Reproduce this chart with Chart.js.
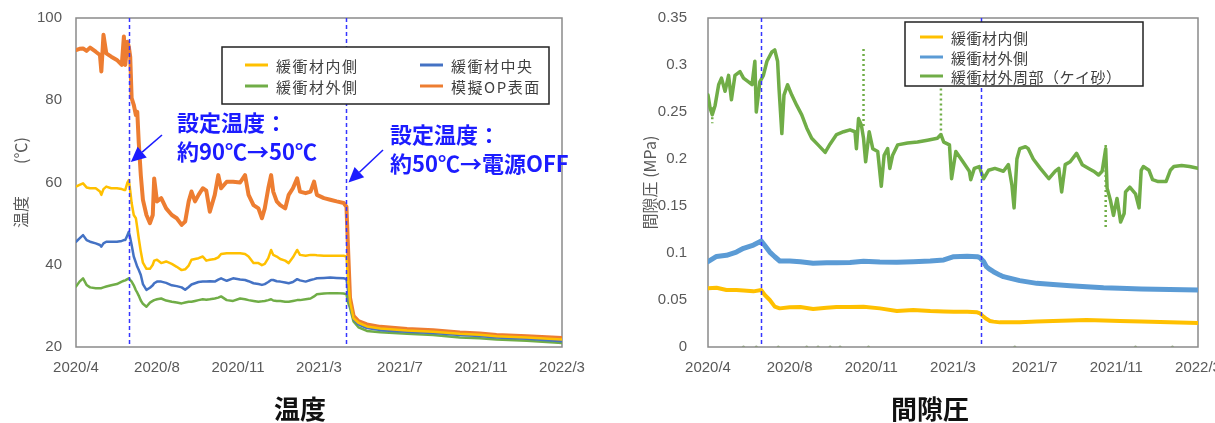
<!DOCTYPE html>
<html lang="ja">
<head>
<meta charset="utf-8">
<title>温度・間隙圧</title>
<script src="https://cdn.jsdelivr.net/npm/chart.js@4.4.1/dist/chart.umd.min.js"></script>
<style>
  html, body { margin: 0; padding: 0; background: #fff; overflow: hidden; width: 1215px; height: 423px; }
  #tempWrap { position: absolute; left: 0; top: 0; width: 600px; height: 423px; }
  #presWrap { position: absolute; left: 615px; top: 0; width: 610px; height: 423px; }
</style>
</head>
<body>
<div id="tempWrap"><canvas id="tempChart"></canvas></div>
<div id="presWrap"><canvas id="presChart"></canvas></div>
<script>
// x values are days counted from 2020/4/1
const xTickDays = [10, 125, 240, 355, 470, 585, 700];
const xTickLabels = ['2020/4', '2020/8', '2020/11', '2021/3', '2021/7', '2021/11', '2022/3'];
const changeDays = [85, 394];

// 温度 (℃)
const tempDays = [10, 15, 20, 25, 30, 38, 44, 46, 49, 53, 60, 68, 75, 78, 80, 83, 85, 87, 89, 92, 95, 97, 99, 102, 105, 110, 115, 119, 121, 125, 131, 138, 146, 153, 160, 165, 170, 174, 179, 184, 190, 195, 200, 207, 212, 216, 224, 233, 243, 250, 255, 262, 269, 274, 278, 283, 287, 290, 295, 300, 307, 312, 318, 324, 328, 336, 343, 348, 352, 362, 371, 380, 390, 394, 396, 399, 404, 411, 423, 442, 480, 517, 555, 583, 607, 650, 700];
const tempInner = [59.0, 59.4, 59.8, 58.8, 58.6, 58.6, 57.8, 57.0, 58.4, 59.0, 58.6, 58.6, 58.4, 58.2, 58.2, 60.0, 60.6, 58.0, 55.0, 52.1, 51.3, 49.0, 46.5, 43.2, 40.5, 39.0, 39.0, 40.0, 41.0, 41.2, 40.4, 40.8, 40.2, 39.5, 38.7, 38.9, 39.8, 41.2, 41.4, 41.6, 42.0, 41.0, 41.2, 41.4, 41.8, 42.6, 42.8, 42.8, 42.8, 42.6, 42.0, 40.4, 40.4, 39.9, 40.2, 41.6, 43.6, 42.4, 42.0, 41.4, 41.0, 40.4, 41.8, 43.6, 42.4, 42.2, 42.4, 42.4, 42.3, 42.2, 42.2, 42.2, 42.2, 42.0, 37.0, 31.0, 27.0, 25.9, 25.0, 24.5, 24.0, 23.7, 23.2, 23.0, 22.6, 22.3, 21.8];
const tempCenter = [45.6, 46.4, 47.2, 46.0, 45.6, 45.2, 44.8, 44.4, 45.2, 45.6, 45.6, 45.6, 45.8, 46.0, 46.0, 47.2, 48.0, 46.5, 44.8, 42.0, 40.5, 39.5, 38.8, 37.5, 35.3, 33.9, 34.4, 35.0, 35.5, 35.9, 35.9, 35.6, 35.0, 34.8, 34.5, 33.9, 34.6, 35.2, 35.5, 35.8, 35.9, 35.9, 36.0, 35.9, 36.4, 36.7, 36.1, 36.7, 36.4, 36.3, 36.0, 35.5, 35.3, 35.1, 35.3, 35.8, 36.3, 36.3, 36.0, 35.9, 35.7, 35.5, 35.8, 36.5, 36.2, 35.9, 36.3, 36.5, 36.7, 36.8, 36.9, 36.8, 36.7, 36.5, 34.0, 30.5, 26.8, 25.5, 24.6, 24.1, 23.7, 23.4, 22.9, 22.7, 22.3, 22.0, 21.4];
const tempOuter = [34.7, 35.9, 36.7, 35.1, 34.5, 34.3, 34.3, 34.3, 34.5, 34.7, 35.0, 35.3, 35.9, 36.1, 36.2, 36.5, 36.7, 36.3, 35.9, 35.0, 33.8, 33.2, 32.5, 31.3, 30.5, 29.8, 30.8, 31.2, 31.4, 31.6, 31.8, 31.3, 31.0, 30.8, 30.6, 30.8, 31.0, 31.0, 31.2, 31.4, 31.6, 31.5, 31.6, 31.8, 32.0, 32.3, 31.4, 31.2, 31.8, 31.6, 31.4, 31.2, 31.0, 31.1, 31.2, 31.4, 31.6, 31.3, 31.2, 31.2, 31.0, 31.0, 31.2, 31.4, 31.4, 31.6, 31.8, 32.3, 32.8, 33.0, 33.1, 33.1, 33.0, 32.8, 31.0, 29.5, 26.2, 24.8, 23.9, 23.6, 23.2, 22.9, 22.3, 22.1, 21.8, 21.5, 21.0];
const tempOP = [92.2, 92.5, 92.6, 92.0, 92.8, 91.8, 91.0, 87.0, 95.9, 91.4, 90.6, 89.8, 88.6, 95.5, 88.6, 94.2, 93.0, 90.5, 80.5, 78.9, 76.4, 77.2, 70.0, 61.8, 55.8, 52.1, 50.1, 52.1, 61.0, 55.4, 56.2, 53.7, 52.1, 51.3, 49.7, 50.5, 55.4, 57.8, 55.4, 57.0, 58.6, 58.0, 52.9, 57.0, 61.8, 58.6, 60.2, 60.2, 60.0, 61.8, 57.0, 54.5, 53.7, 51.3, 53.7, 58.6, 61.8, 57.8, 55.4, 54.5, 53.7, 57.0, 58.6, 61.0, 57.8, 57.4, 57.8, 60.2, 57.0, 56.2, 55.8, 55.4, 55.0, 54.1, 45.0, 32.0, 27.6, 26.3, 25.5, 24.9, 24.4, 24.1, 23.5, 23.3, 22.9, 22.6, 22.2];

// 間隙圧 (MPa)
const presDays = [10, 22, 36, 50, 60, 74, 85, 90, 97, 104, 111, 125, 140, 158, 177, 191, 210, 229, 252, 276, 299, 323, 342, 356, 375, 389, 393, 398, 402, 407, 412, 421, 426, 449, 473, 496, 520, 543, 567, 590, 620, 660, 700];
const presInner = [0.0624, 0.0631, 0.0606, 0.0606, 0.0600, 0.0592, 0.0606, 0.0553, 0.0500, 0.0429, 0.0411, 0.0422, 0.0426, 0.0404, 0.0418, 0.0426, 0.0426, 0.0429, 0.0411, 0.0383, 0.0394, 0.0383, 0.0378, 0.0376, 0.0376, 0.0369, 0.0358, 0.0323, 0.0300, 0.0277, 0.0270, 0.0262, 0.0262, 0.0262, 0.0270, 0.0277, 0.0282, 0.0287, 0.0282, 0.0277, 0.0270, 0.0262, 0.0255];
const presOuter = [0.0908, 0.0963, 0.0975, 0.1010, 0.1050, 0.1085, 0.1128, 0.1080, 0.1010, 0.0960, 0.0915, 0.0915, 0.0908, 0.0890, 0.0895, 0.0897, 0.0900, 0.0912, 0.0905, 0.0902, 0.0908, 0.0915, 0.0926, 0.0961, 0.0965, 0.0961, 0.0950, 0.0910, 0.0855, 0.0825, 0.0801, 0.0765, 0.0748, 0.0706, 0.0677, 0.0665, 0.0652, 0.0642, 0.0631, 0.0625, 0.0618, 0.0612, 0.0606];
const sandDays = [10, 13, 16, 20, 25, 29, 34, 39, 43, 48, 55, 60, 67, 72, 76, 78, 83, 88, 93, 100, 104, 108, 110, 114, 117, 122, 128, 135, 142, 149, 156, 165, 175, 182, 191, 201, 210, 217, 219, 222, 226, 229, 232, 237, 242, 249, 254, 258, 263, 266, 270, 277, 291, 305, 319, 333, 338, 342, 350, 353, 359, 369, 378, 380, 385, 392, 398, 405, 414, 426, 433, 438, 441, 445, 449, 457, 461, 468, 478, 490, 499, 504, 508, 513, 520, 529, 537, 546, 553, 560, 565, 570, 572, 577, 581, 586, 591, 596, 598, 604, 612, 617, 620, 623, 631, 636, 644, 655, 661, 666, 677, 688, 700];
const sandVals = [0.268, 0.254, 0.247, 0.257, 0.279, 0.286, 0.272, 0.289, 0.263, 0.289, 0.293, 0.286, 0.282, 0.279, 0.304, 0.250, 0.282, 0.289, 0.304, 0.314, 0.316, 0.304, 0.275, 0.227, 0.268, 0.279, 0.268, 0.257, 0.247, 0.233, 0.222, 0.215, 0.207, 0.216, 0.226, 0.229, 0.231, 0.229, 0.211, 0.243, 0.236, 0.222, 0.197, 0.229, 0.211, 0.208, 0.171, 0.204, 0.211, 0.190, 0.204, 0.215, 0.217, 0.218, 0.220, 0.222, 0.226, 0.218, 0.215, 0.179, 0.208, 0.197, 0.187, 0.178, 0.190, 0.192, 0.179, 0.188, 0.190, 0.187, 0.194, 0.172, 0.148, 0.200, 0.211, 0.213, 0.211, 0.200, 0.190, 0.179, 0.187, 0.190, 0.165, 0.194, 0.197, 0.206, 0.194, 0.190, 0.187, 0.183, 0.187, 0.211, 0.169, 0.155, 0.140, 0.158, 0.133, 0.142, 0.165, 0.170, 0.163, 0.148, 0.188, 0.192, 0.188, 0.178, 0.176, 0.176, 0.188, 0.192, 0.193, 0.192, 0.190];
// scattered readings drawn as dotted streaks (null = break)
const sandSpikeDays = [16, 16, null, 229, 229, null, 338, 338, null, 570, 570];
const sandSpikeVals = [0.255, 0.238, null, 0.235, 0.320, null, 0.225, 0.280, null, 0.215, 0.126];
const zeroDotDays = [60, 78, 109, 149, 165, 182, 196, 236, 442, 612, 664];

const noteA = ['設定温度：', '約90℃→50℃'];
const noteB = ['設定温度：', '約50℃→電源OFF'];

const CJK = '"Noto Sans CJK JP", "Noto Sans", sans-serif';
const NUM = '"Liberation Sans", Arial, sans-serif';

function pairs(xs, ys) {
    return xs.map((x, i) => ({ x: x, y: ys[i] }));
}

function lineSet(label, xs, ys, color, width) {
    return { label: label, data: pairs(xs, ys), borderColor: color, backgroundColor: color, borderWidth: width,
             pointRadius: 0, tension: 0, borderJoinStyle: 'round', borderCapStyle: 'round' };
}

// keep the plot box where layout.padding puts it
function fixPadding(s) {
    s.paddingTop = 0; s.paddingBottom = 0; s.paddingLeft = 0; s.paddingRight = 0;
}

function xAxis() {
    return {
        type: 'linear', min: 10, max: 700,
        afterFit: (s) => { s.height = 30; fixPadding(s); },
        afterBuildTicks: (s) => { s.ticks = xTickDays.map(v => ({ value: v })); },
        grid: { display: false, drawTicks: false },
        border: { display: false },
        ticks: { autoSkip: false, maxRotation: 0, padding: 12, color: '#595959', font: { family: NUM, size: 15 },
                 callback: (v, i) => xTickLabels[i] }
    };
}

// frame, dashed change lines, legend box, notes, caption
function createDecorPlugin(cfg) {
    return {
        id: 'decor',
        beforeDatasetsDraw: (chart) => {
            const { ctx, chartArea: a } = chart;
            ctx.save();
            ctx.strokeStyle = '#8a8a8a';
            ctx.lineWidth = 1.5;
            ctx.strokeRect(a.left, a.top, a.right - a.left, a.bottom - a.top);
            ctx.restore();
        },
        afterDatasetsDraw: (chart) => {
            const { ctx, chartArea: a, scales } = chart;
            ctx.save();
            ctx.strokeStyle = '#3535ff';
            ctx.lineWidth = 1.5;
            ctx.setLineDash([4, 3]);
            changeDays.forEach(d => {
                const x = Math.round(scales.x.getPixelForValue(d)) + 0.5;
                ctx.beginPath();
                ctx.moveTo(x, a.top);
                ctx.lineTo(x, a.bottom);
                ctx.stroke();
            });
            ctx.restore();

            // legend
            const L = cfg.legend;
            ctx.save();
            ctx.fillStyle = '#fff';
            ctx.fillRect(L.box[0], L.box[1], L.box[2], L.box[3]);
            ctx.strokeStyle = '#222';
            ctx.lineWidth = 1.5;
            ctx.strokeRect(L.box[0], L.box[1], L.box[2], L.box[3]);
            ctx.font = '15px ' + CJK;
            ctx.letterSpacing = L.spacing;
            ctx.textBaseline = 'middle';
            ctx.fillStyle = '#404040';
            L.items.forEach((idx, k) => {
                const ds = chart.data.datasets[idx];
                const [sx, sy] = L.slots[k];
                ctx.strokeStyle = ds.borderColor;
                ctx.lineWidth = 3;
                ctx.beginPath();
                ctx.moveTo(sx, sy);
                ctx.lineTo(sx + 23, sy);
                ctx.stroke();
                ctx.fillText(ds.label, sx + 31, sy + 1);
            });
            ctx.restore();

            // blue notes with arrows
            (cfg.notes || []).forEach(n => {
                ctx.save();
                ctx.fillStyle = '#1c1cff';
                ctx.strokeStyle = '#1c1cff';
                ctx.font = 'bold 22px ' + CJK;
                ctx.textBaseline = 'middle';
                n.lines.forEach((t, i) => ctx.fillText(t, n.x, n.y + i * 29));
                const tx = scales.x.getPixelForValue(n.tipDay) + 2;
                const ty = scales.y.getPixelForValue(n.tipVal);
                const ang = Math.atan2(ty - n.tail[1], tx - n.tail[0]);
                const hx = tx - Math.cos(ang) * 15, hy = ty - Math.sin(ang) * 15;
                ctx.lineWidth = 1.6;
                ctx.beginPath();
                ctx.moveTo(n.tail[0], n.tail[1]);
                ctx.lineTo(hx, hy);
                ctx.stroke();
                ctx.beginPath();
                ctx.moveTo(tx, ty);
                ctx.lineTo(hx + Math.sin(ang) * 7, hy - Math.cos(ang) * 7);
                ctx.lineTo(hx - Math.sin(ang) * 7, hy + Math.cos(ang) * 7);
                ctx.closePath();
                ctx.fill();
                ctx.restore();
            });

            // caption under the chart
            ctx.save();
            ctx.fillStyle = '#111';
            ctx.font = 'bold 26px ' + CJK;
            ctx.textAlign = 'center';
            ctx.textBaseline = 'middle';
            ctx.fillText(cfg.caption, cfg.captionX, 409);
            ctx.restore();
        }
    };
}

new Chart(document.getElementById('tempChart'), {
    type: 'line',
    data: {
        datasets: [
            lineSet('緩衝材内側', tempDays, tempInner, '#FFC000', 2.5),
            lineSet('緩衝材中央', tempDays, tempCenter, '#4472C4', 2.5),
            lineSet('緩衝材外側', tempDays, tempOuter, '#70AD47', 2.5),
            lineSet('模擬OP表面', tempDays, tempOP, '#ED7D31', 4)
        ]
    },
    options: {
        responsive: true, maintainAspectRatio: false, animation: false,
        layout: { padding: { left: 0, right: 38, top: 18, bottom: 46 } },
        plugins: { legend: { display: false }, tooltip: { enabled: false } },
        scales: {
            x: xAxis(),
            y: {
                min: 20, max: 100,
                afterFit: (s) => { s.width = 76; fixPadding(s); },
                grid: { display: false, drawTicks: false },
                border: { display: false },
                ticks: { stepSize: 20, padding: 14, color: '#595959', font: { family: NUM, size: 15 } },
                title: { display: true, text: '温度　　(℃)', color: '#595959', padding: { top: 11, bottom: 0 },
                         font: { family: CJK, size: 16 } }
            }
        }
    },
    plugins: [createDecorPlugin({
        legend: { box: [222, 47, 327, 57], spacing: '1.5px', items: [0, 1, 2, 3],
                  slots: [[245, 65], [420, 65], [245, 86], [420, 86]] },
        notes: [
            { lines: noteA, x: 177, y: 123, tipDay: changeDays[0], tipVal: 65, tail: [162, 135] },
            { lines: noteB, x: 390, y: 135, tipDay: changeDays[1], tipVal: 60, tail: [383, 150] }
        ],
        caption: '温度', captionX: 300
    })]
});

new Chart(document.getElementById('presChart'), {
    type: 'line',
    data: {
        datasets: [
            lineSet('緩衝材内側', presDays, presInner, '#FFC000', 4),
            lineSet('緩衝材外側', presDays, presOuter, '#5B9BD5', 5),
            lineSet('緩衝材外周部（ケイ砂）', sandDays, sandVals, '#70AD47', 3.5),
            { label: '', data: pairs(sandSpikeDays, sandSpikeVals), borderColor: '#70AD47', borderWidth: 2.5,
              borderDash: [2, 3], pointRadius: 0, spanGaps: false },
            { label: '', data: zeroDotDays.map(d => ({ x: d, y: 0 })), showLine: false, pointRadius: 1.6,
              pointBackgroundColor: '#8d9a80', pointBorderWidth: 0 }
        ]
    },
    options: {
        responsive: true, maintainAspectRatio: false, animation: false,
        layout: { padding: { left: 0, right: 27, top: 18, bottom: 46 } },
        plugins: { legend: { display: false }, tooltip: { enabled: false } },
        scales: {
            x: xAxis(),
            y: {
                min: 0, max: 0.35,
                afterFit: (s) => { s.width = 93; fixPadding(s); },
                grid: { display: false, drawTicks: false },
                border: { display: false },
                ticks: { stepSize: 0.05, padding: 21, color: '#595959', font: { family: NUM, size: 15 },
                         callback: (v) => String(+v.toFixed(2)) },
                title: { display: true, text: '間隙圧 (MPa)', color: '#595959', padding: { top: 25, bottom: 0 },
                         font: { family: CJK, size: 16 } }
            }
        }
    },
    plugins: [createDecorPlugin({
        legend: { box: [290, 22, 238, 64], spacing: '0.5px', items: [0, 1, 2],
                  slots: [[305, 37], [305, 57], [305, 76]] },
        caption: '間隙圧', captionX: 315
    })]
});
</script>
</body>
</html>
